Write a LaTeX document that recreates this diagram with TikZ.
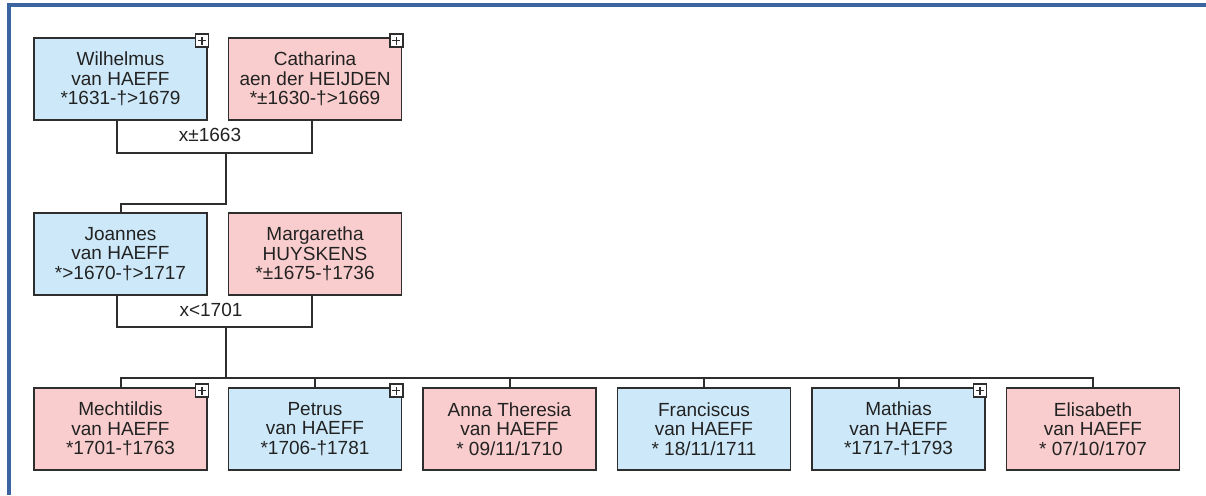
\documentclass[tikz,border=0pt]{standalone}
\usepackage{fontspec}
\setmainfont{Liberation Sans}
\definecolor{frameblue}{HTML}{3B64A0}
\definecolor{mblue}{HTML}{CDE9F9}
\definecolor{fpink}{HTML}{F9CDCD}
\definecolor{edge}{HTML}{2E2E2E}
\definecolor{txt}{HTML}{222222}
\begin{document}
\begin{tikzpicture}[x=1pt,y=-1pt,
  person/.style={draw=edge, line width=1.8pt, rectangle, minimum width=173pt, minimum height=82pt,
    inner sep=0pt, align=center, text=txt, font=\fontsize{19}{19.5}\selectfont},
  male/.style={person, fill=mblue},
  female/.style={person, fill=fpink},
  plusbox/.style={draw=edge, line width=1.5pt, fill=white, rectangle, minimum width=13pt, minimum height=13pt, inner sep=0pt},
  link/.style={draw=edge, line width=2pt},
  marr/.style={text=txt, font=\fontsize{19}{19.5}\selectfont, inner sep=0pt}
]
\useasboundingbox (0,0) rectangle (1206,495);
\fill[white] (0,0) rectangle (1206,495);
% frame
\draw[frameblue, line width=4pt] (9.2,495) -- (9.2,5.3) -- (1206,5.3);

% generation 1
\node[male]   (W) at (120.5,79) {Wilhelmus\\van HAEFF\\*1631-†>1679};
\node[female] (C) at (315,79)   {Catharina\\aen der HEIJDEN\\*±1630-†>1669};
% generation 2
\node[male]   (J) at (120.5,254) {Joannes\\van HAEFF\\*>1670-†>1717};
\node[female] (G) at (315,254)   {Margaretha\\HUYSKENS\\*±1675-†1736};
% generation 3
\node[female] (K1) at (120.5,429) {Mechtildis\\van HAEFF\\*1701-†1763};
\node[male]   (K2) at (315,429)   {Petrus\\van HAEFF\\*1706-†1781};
\node[female] (K3) at (509.5,429) {Anna Theresia\\van HAEFF\\* 09/11/1710};
\node[male]   (K4) at (704,429)   {Franciscus\\van HAEFF\\* 18/11/1711};
\node[male]   (K5) at (898.5,429) {Mathias\\van HAEFF\\*1717-†1793};
\node[female] (K6) at (1093,429)  {Elisabeth\\van HAEFF\\* 07/10/1707};

% plus boxes
\foreach \n in {W,C,K1,K2,K5}{
  \node[plusbox] (p\n) at ([xshift=-6pt,yshift=-3.5pt]\n.north east) {};
  \draw[edge, line width=1.5pt] ([xshift=-4pt]p\n.center) -- ([xshift=4pt]p\n.center)
        ([yshift=-4pt]p\n.center) -- ([yshift=4pt]p\n.center);
}

% couple 1
\coordinate (u1) at (226,153);
\draw[link] ([xshift=-3.5pt]W.south) |- (u1) -| ([xshift=-3pt]C.south);
\node[marr] (m1) at (210,135) {x±1663};
\coordinate (d1) at (226,204);
\draw[link] (u1) -- (d1) -| (J.north);

% couple 2
\coordinate (u2) at (226,327);
\draw[link] ([xshift=-3.5pt]J.south) |- (u2) -| ([xshift=-3pt]G.south);
\node[marr] (m2) at (211,310) {x<1701};
\coordinate (d2) at (226,378);
\draw[link] (u2) -- (d2);
\draw[link] (K1.north) |- (d2 -| K6.north) -- (K6.north);
\foreach \n in {K2,K3,K4,K5}{
  \draw[link] (\n.north) -- (\n.north |- d2);
}
\end{tikzpicture}
\end{document}
